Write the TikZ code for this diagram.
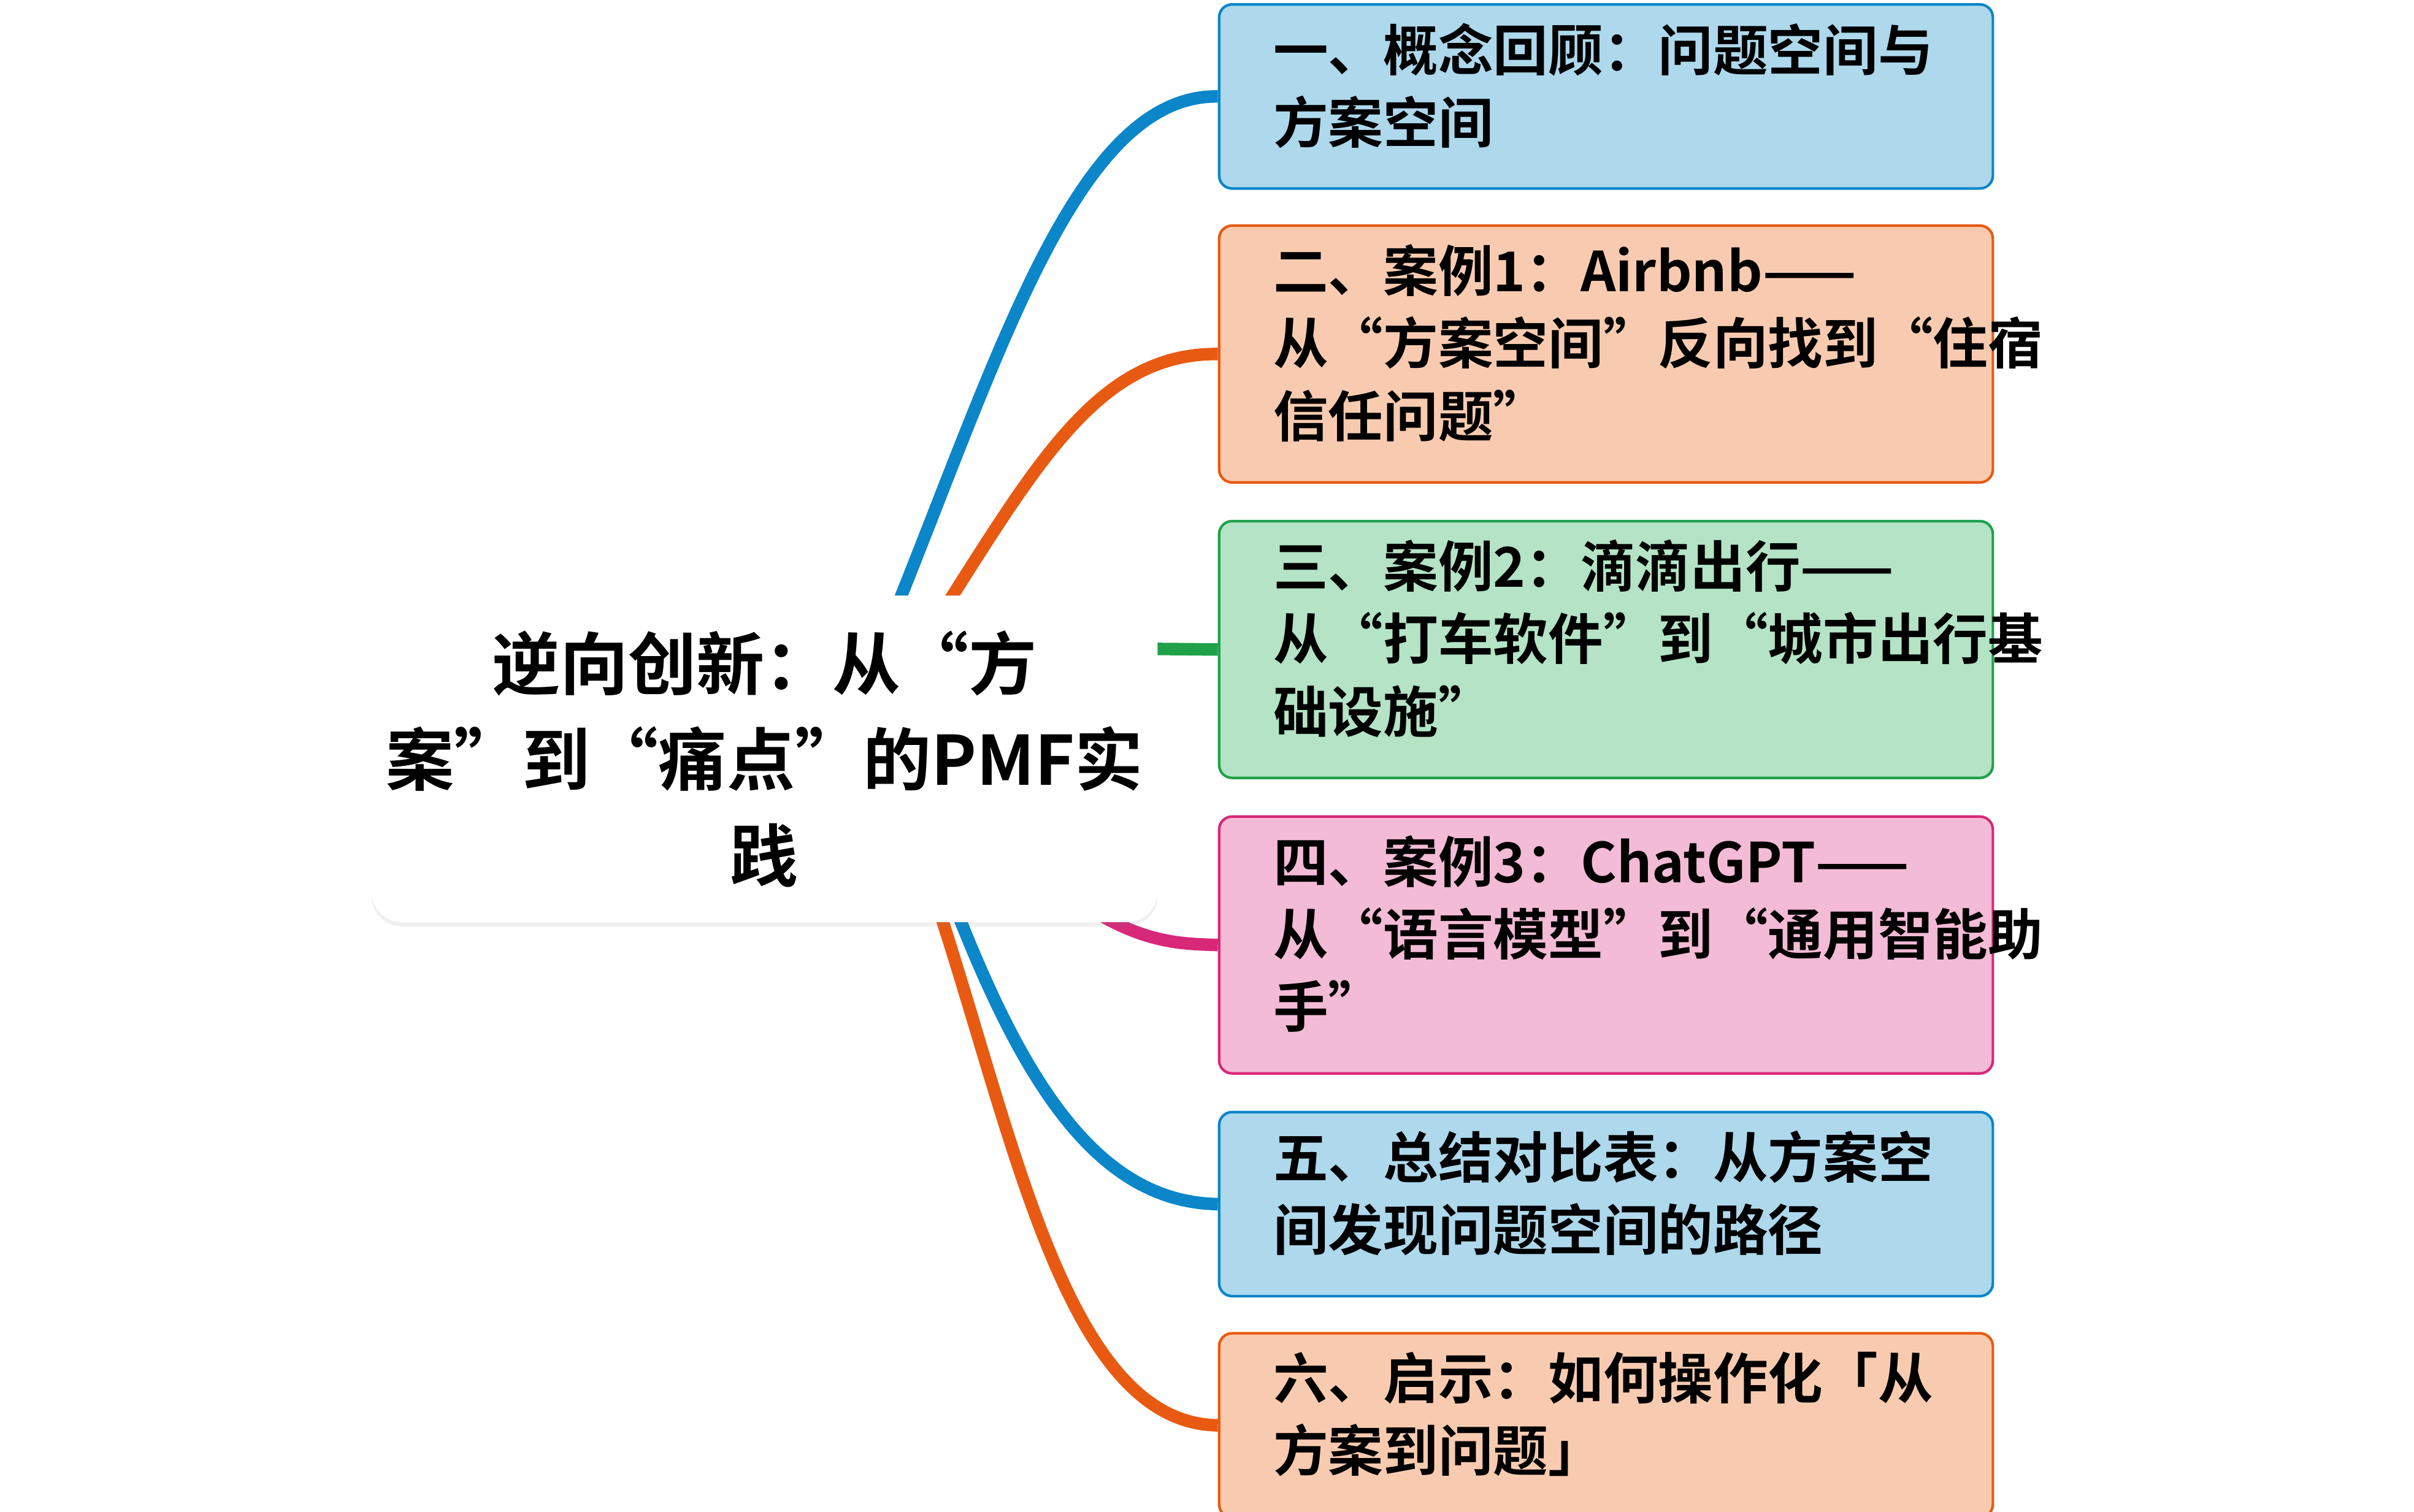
\documentclass[tikz,border=0pt]{standalone}
\usepackage{fontspec}
\setmainfont{Noto Sans CJK SC}[BoldFont={* Bold}]
\usetikzlibrary{shadows}
\definecolor{bF}{HTML}{AED8EC}\definecolor{bD}{HTML}{0A86C9}
\definecolor{oF}{HTML}{F8CBB0}\definecolor{oD}{HTML}{E85A12}
\definecolor{gF}{HTML}{B4E3C6}\definecolor{gD}{HTML}{1FA14A}
\definecolor{pF}{HTML}{F3BBD5}\definecolor{pD}{HTML}{D8287A}
\begin{document}
\begin{tikzpicture}[x=0.02523cm,y=-0.02523cm,
  box/.style={draw, line width=1.2pt, rounded corners=6pt, minimum width=500*0.02523cm, text width=460*0.02523cm, align=left, anchor=north west, inner sep=0pt, font=\bfseries\fontsize{25.5pt}{33.7pt}\selectfont},
  link/.style={line width=5.8pt}]
\useasboundingbox (0,0) rectangle (1560,977);
% connectors
\coordinate (s1) at (560,440);
\coordinate (s2) at (580,440);
\coordinate (s3) at (700,419);
\coordinate (s4) at (680,570);
\coordinate (s5) at (600,540);
\coordinate (s6) at (590,540);
\node[box, fill=bF, draw=bD, minimum height=119*0.02523cm] (b1) at (787,2) {};
\node[box, fill=oF, draw=oD, minimum height=166*0.02523cm] (b2) at (787,145) {};
\node[box, fill=gF, draw=gD, minimum height=166*0.02523cm] (b3) at (787,336) {};
\node[box, fill=pF, draw=pD, minimum height=166*0.02523cm] (b4) at (787,527) {};
\node[box, fill=bF, draw=bD, minimum height=119*0.02523cm] (b5) at (787,718) {};
\node[box, fill=oF, draw=oD, minimum height=119*0.02523cm] (b6) at (787,861) {};
\draw[link, bD] (s1) .. controls (640,250) and (690,61) .. (b1.west);
\draw[link, oD] (s2) .. controls (660,320) and (700,228) .. (b2.west);
\draw[link, gD] (s3) -- (b3.west);
\draw[link, pD] (s4) .. controls (730,610) and (760,610) .. (b4.west);
\draw[link, bD] (s5) .. controls (650,680) and (700,777) .. (b5.west);
\draw[link, oD] (s6) .. controls (650,700) and (680,920) .. (b6.west);
% texts
\node[box, draw=none, minimum height=0pt, anchor=north west] (t1) at (802,14) {一、概念回顾：问题空间与\\方案空间};
\node[box, draw=none, minimum height=0pt] (t2) at (802,157) {二、案例1：Airbnb——\\从“方案空间”反向找到“住宿\\信任问题”};
\node[box, draw=none, minimum height=0pt] (t3) at (802,348) {三、案例2：滴滴出行——\\从“打车软件”到“城市出行基\\础设施”};
\node[box, draw=none, minimum height=0pt] (t4) at (802,539) {四、案例3：ChatGPT——\\从“语言模型”到“通用智能助\\手”};
\node[box, draw=none, minimum height=0pt] (t5) at (802,730) {五、总结对比表：从方案空\\间发现问题空间的路径};
\node[box, draw=none, minimum height=0pt] (t6) at (802,873) {六、启示：如何操作化「从\\方案到问题」};
% center
\node[fill=white, rounded corners=14pt, minimum width=508*0.02523cm, minimum height=211*0.02523cm, drop shadow={opacity=0.12, shadow xshift=0pt, shadow yshift=-2pt}, align=center, font=\bfseries\fontsize{31.6pt}{44.5pt}\selectfont] (c) at (494,490.5) {逆向创新：从“方\\案”到“痛点”的PMF实\\践};
\end{tikzpicture}
\end{document}
